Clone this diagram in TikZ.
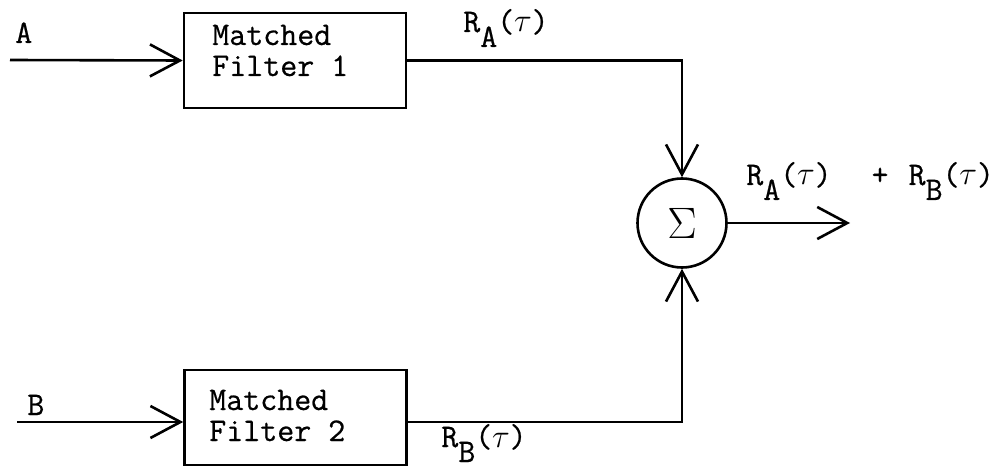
\documentclass[tikz,border=0pt]{standalone}
\usepackage{fix-cm}
\usepackage{fontspec}
\setmonofont{Latin Modern Mono}[FakeBold=0.6]
\usetikzlibrary{arrows.meta}
\newcommand{\lowr}[1]{\raisebox{-15pt}{#1}}
\newcommand{\tauch}{\makebox[0.525em]{$\tau$}}
\begin{document}
\begin{tikzpicture}[x=1pt,y=-1pt,
    line width=2.6pt,
    every node/.style={font=\ttfamily\fontsize{33}{31}\selectfont},
    blk/.style={draw,rectangle,minimum width=222pt,minimum height=95pt,inner sep=0pt},
    sumnode/.style={draw,circle,minimum size=89pt,inner sep=0pt},
    txt/.style={inner sep=0pt,anchor=base west,align=left},
    arr/.style={-{Straight Barb[length=30pt,width=32pt,line width=2.6pt]}}]
  \useasboundingbox (0,0) rectangle (1005,468);

  % filters and summer
  \node[blk] (f1) at (295,60.5) {};
  \node[blk] (f2) at (295.5,417.5) {};
  \node[sumnode] (sum) at (682,223) {};
  \node[font=\fontsize{44}{44}\selectfont] (sigma) at (sum.center) {$\Sigma$};

  % texts in the filter boxes (anchored at the baseline of the last line)
  \node[txt] (t1) at (211,76) {Matched\\Filter 1};
  \node[txt] (t2) at (208,441) {Matched\\Filter 2};

  % inputs and output
  \coordinate (inA) at (10,60);
  \coordinate (inB) at (17,422);
  \coordinate (out) at (850,223);
  \node[txt] (la) at (14,43) {A};
  \node[txt] (lb) at (26,415) {B};

  % connectors
  \draw[arr] (inA) -- (f1.west);
  \draw[arr] (inB) -- (inB -| f2.west);
  \draw[arr] (f1.east) -| (sum.north);
  \draw[arr] (f2.east |- inB) -| (sum.south);
  \draw[arr] (sum.east) -- (out);

  % signal labels
  \node[txt] (ra) at (462,32) {R\lowr{A}(\tauch)};
  \node[txt] (rb) at (440,447) {R\lowr{B}(\tauch)};
  \node[txt] (rsum) at (745,185) {R\lowr{A}(\tauch)~~\hspace{6pt}+~\hspace{3pt}R\lowr{B}(\tauch)};
\end{tikzpicture}
\end{document}
